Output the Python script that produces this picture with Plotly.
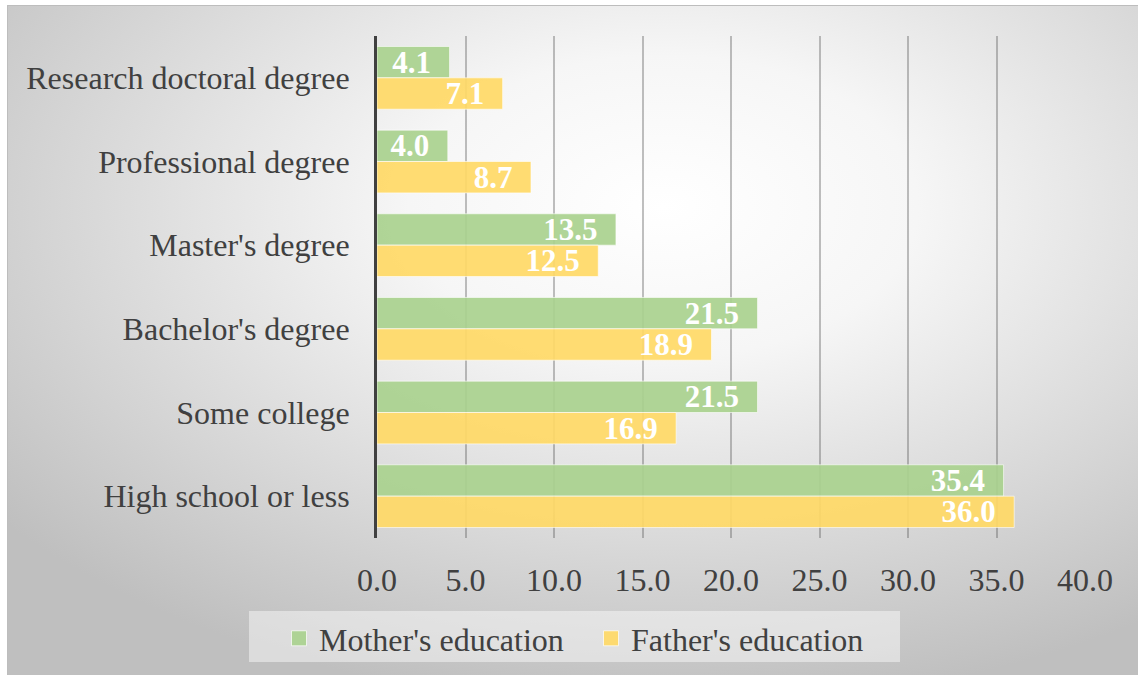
import base64
import plotly.graph_objects as go

categories = ["Research doctoral degree", "Professional degree", "Master's degree",
              "Bachelor's degree", "Some college", "High school or less"]
mother = [4.1, 4.0, 13.5, 21.5, 21.5, 35.4]
father = [7.1, 8.7, 12.5, 18.9, 16.9, 36.0]
series_names = ["Mother's education", "Father's education"]
x_ticks = [0, 5, 10, 15, 20, 25, 30, 35, 40]
colors = ["rgba(169,209,142,0.92)", "rgba(255,217,102,0.92)"]

W, H = 1138, 675
L, R, T, B = 377, 53, 36, 137
PW, PH = W - L - R, H - T - B

FONT = "Liberation Serif"
TXT = "#404040"

svg = f'''<svg xmlns="http://www.w3.org/2000/svg" width="{W}" height="{H}" viewBox="0 0 {W} {H}">
<defs><radialGradient id="g" cx="0.58" cy="0.3" r="0.75">
<stop offset="0" stop-color="#ffffff"/><stop offset="0.3" stop-color="#f6f6f6"/>
<stop offset="1" stop-color="#bfbfbf"/></radialGradient></defs>
<rect x="0" y="0" width="{W}" height="{H}" fill="#ffffff"/>
<rect x="7.5" y="5.5" width="{W-7}" height="{H-5}" fill="url(#g)" stroke="#bdbdbd" stroke-width="1"/>
</svg>'''
src = "data:image/svg+xml;base64," + base64.b64encode(svg.encode()).decode()

def px_to_paper_x(px):
    return (px - L) / PW

def px_to_paper_y(py):
    return (H - B - py) / PH

fig = go.Figure()
for vals, name, col in zip([mother, father], series_names, colors):
    fig.add_trace(go.Bar(
        y=categories, x=vals, name=name, orientation="h", showlegend=False,
        marker=dict(color=col, line=dict(color="rgba(255,255,255,0.6)", width=1)),
        texttemplate="%{x:.1f}\u00a0\u00a0", textposition="inside", insidetextanchor="end",
        constraintext="none",
        textfont=dict(family=FONT, size=31, color="white", weight="bold"),
    ))
for name, col in zip(series_names, colors):
    fig.add_trace(go.Scatter(
        x=[None], y=[None], mode="markers", name=name,
        marker=dict(symbol="square", size=15, color=col,
                    line=dict(color="rgba(255,255,255,0.7)", width=1)),
    ))

fig.update_layout(
    width=W, height=H,
    margin=dict(l=L, r=R, t=T, b=B, autoexpand=False),
    paper_bgcolor="white", plot_bgcolor="rgba(0,0,0,0)",
    barmode="group", bargap=0.25, bargroupgap=0,
    font=dict(family=FONT, size=32, color=TXT),
    xaxis=dict(range=[0, 40], tickvals=x_ticks, tickformat=".1f",
               showgrid=True, gridcolor="rgba(90,90,90,0.38)", gridwidth=1.5,
               zeroline=False, showline=False,
               ticks="outside", ticklen=14, tickcolor="rgba(0,0,0,0)",
               tickfont=dict(family=FONT, size=32, color=TXT), fixedrange=True),
    yaxis=dict(categoryorder="array", categoryarray=categories, autorange="reversed",
               showline=True, linecolor="#404040", linewidth=3, showgrid=False,
               ticks="outside", ticklen=18, tickcolor="rgba(0,0,0,0)",
               tickfont=dict(family=FONT, size=32, color=TXT)),
    legend=dict(orientation="h", x=px_to_paper_x(279), xanchor="left",
                y=px_to_paper_y(611), yanchor="top",
                bgcolor="rgba(0,0,0,0)", font=dict(family=FONT, size=32, color=TXT),
                entrywidth=267, entrywidthmode="pixels"),
    images=[dict(source=src, xref="paper", yref="paper",
                 x=px_to_paper_x(0), y=px_to_paper_y(0),
                 sizex=W / PW, sizey=H / PH, sizing="stretch",
                 xanchor="left", yanchor="top", layer="below")],
    shapes=[dict(type="rect", xref="paper", yref="paper",
                 x0=px_to_paper_x(249), x1=px_to_paper_x(900),
                 y0=px_to_paper_y(662), y1=px_to_paper_y(611),
                 fillcolor="rgba(255,255,255,0.45)", line=dict(width=0), layer="below")],
)

fig.write_html("out.html")
